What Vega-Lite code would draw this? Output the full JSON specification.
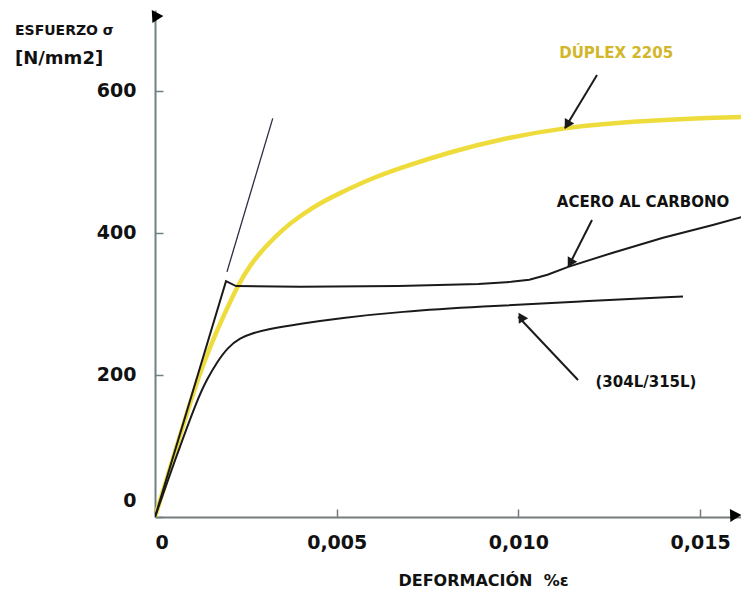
{
  "$schema": "https://vega.github.io/schema/vega-lite/v6.json",
  "width": 586,
  "height": 507,
  "autosize": {"type": "none"},
  "padding": {"left": 155, "top": 10, "right": 0, "bottom": 73},
  "background": "white",
  "config": {"view": {"stroke": null}, "font": "DejaVu Sans"},
  "title": {
    "text": "ESFUERZO σ",
    "subtitle": "[N/mm2]",
    "anchor": "start",
    "frame": "group",
    "orient": "top",
    "offset": 0,
    "dx": -140,
    "dy": 58,
    "font": "DejaVu Sans", "fontWeight": "bold", "fontSize": 14, "color": "#111111",
    "subtitleFont": "DejaVu Sans", "subtitleFontWeight": "bold", "subtitleFontSize": 18, "subtitleColor": "#111111",
    "subtitlePadding": 12
  },
  "datasets": {
    "curves": [
      {"series": "DÚPLEX 2205", "i": 0, "x": 0, "y": 0},
      {"series": "DÚPLEX 2205", "i": 1, "x": 0.00055, "y": 91.5},
      {"series": "DÚPLEX 2205", "i": 2, "x": 0.000963, "y": 160.5},
      {"series": "DÚPLEX 2205", "i": 3, "x": 0.001238, "y": 202.7},
      {"series": "DÚPLEX 2205", "i": 4, "x": 0.001513, "y": 239.3},
      {"series": "DÚPLEX 2205", "i": 5, "x": 0.001871, "y": 281.5},
      {"series": "DÚPLEX 2205", "i": 6, "x": 0.002284, "y": 326.5},
      {"series": "DÚPLEX 2205", "i": 7, "x": 0.002614, "y": 354.7},
      {"series": "DÚPLEX 2205", "i": 8, "x": 0.003027, "y": 380},
      {"series": "DÚPLEX 2205", "i": 9, "x": 0.003522, "y": 405.4},
      {"series": "DÚPLEX 2205", "i": 10, "x": 0.00399, "y": 423.6},
      {"series": "DÚPLEX 2205", "i": 11, "x": 0.00454, "y": 441.9},
      {"series": "DÚPLEX 2205", "i": 12, "x": 0.005091, "y": 456},
      {"series": "DÚPLEX 2205", "i": 13, "x": 0.005916, "y": 475.7},
      {"series": "DÚPLEX 2205", "i": 14, "x": 0.006742, "y": 491.2},
      {"series": "DÚPLEX 2205", "i": 15, "x": 0.008118, "y": 513.7},
      {"series": "DÚPLEX 2205", "i": 16, "x": 0.009494, "y": 532},
      {"series": "DÚPLEX 2205", "i": 17, "x": 0.011337, "y": 548.9},
      {"series": "DÚPLEX 2205", "i": 18, "x": 0.013154, "y": 556.6},
      {"series": "DÚPLEX 2205", "i": 19, "x": 0.014997, "y": 561.6},
      {"series": "DÚPLEX 2205", "i": 20, "x": 0.016125, "y": 563},
      {"series": "ACERO AL CARBONO", "i": 0, "x": 0, "y": 0},
      {"series": "ACERO AL CARBONO", "i": 1, "x": 0.001954, "y": 332},
      {"series": "ACERO AL CARBONO", "i": 2, "x": 0.00223, "y": 325},
      {"series": "ACERO AL CARBONO", "i": 3, "x": 0.004, "y": 324},
      {"series": "ACERO AL CARBONO", "i": 4, "x": 0.0067, "y": 325},
      {"series": "ACERO AL CARBONO", "i": 5, "x": 0.0089, "y": 328},
      {"series": "ACERO AL CARBONO", "i": 6, "x": 0.0098, "y": 331},
      {"series": "ACERO AL CARBONO", "i": 7, "x": 0.0103, "y": 334},
      {"series": "ACERO AL CARBONO", "i": 8, "x": 0.0108, "y": 341},
      {"series": "ACERO AL CARBONO", "i": 9, "x": 0.01137, "y": 352},
      {"series": "ACERO AL CARBONO", "i": 10, "x": 0.0126, "y": 372},
      {"series": "ACERO AL CARBONO", "i": 11, "x": 0.01398, "y": 393},
      {"series": "ACERO AL CARBONO", "i": 12, "x": 0.01535, "y": 411},
      {"series": "ACERO AL CARBONO", "i": 13, "x": 0.01613, "y": 422},
      {"series": "(304L/315L)", "i": 0, "x": 0, "y": 0},
      {"series": "(304L/315L)", "i": 1, "x": 0.00055, "y": 80.2},
      {"series": "(304L/315L)", "i": 2, "x": 0.001156, "y": 164.7},
      {"series": "(304L/315L)", "i": 3, "x": 0.001431, "y": 194},
      {"series": "(304L/315L)", "i": 4, "x": 0.001706, "y": 218},
      {"series": "(304L/315L)", "i": 5, "x": 0.002009, "y": 239},
      {"series": "(304L/315L)", "i": 6, "x": 0.002339, "y": 252},
      {"series": "(304L/315L)", "i": 7, "x": 0.002697, "y": 259},
      {"series": "(304L/315L)", "i": 8, "x": 0.003082, "y": 264},
      {"series": "(304L/315L)", "i": 9, "x": 0.00399, "y": 272},
      {"series": "(304L/315L)", "i": 10, "x": 0.005091, "y": 280},
      {"series": "(304L/315L)", "i": 11, "x": 0.006742, "y": 289},
      {"series": "(304L/315L)", "i": 12, "x": 0.008943, "y": 296.3},
      {"series": "(304L/315L)", "i": 13, "x": 0.011695, "y": 303.3},
      {"series": "(304L/315L)", "i": 14, "x": 0.014529, "y": 310.3},
      {"series": "elastic", "i": 0, "x": 0.00198, "y": 345},
      {"series": "elastic", "i": 1, "x": 0.00324, "y": 561}
    ],
    "arrows": [
      {"label": "DÚPLEX 2205", "x": 0.012163, "y": 622, "x2": 0.011282, "y2": 547.5, "hx": 0.01134, "hy": 552},
      {"label": "ACERO AL CARBONO", "x": 0.012025, "y": 418, "x2": 0.011373, "y2": 352.3, "hx": 0.011423, "hy": 357.4},
      {"label": "(304L/315L)", "x": 0.01164, "y": 192.8, "x2": 0.009997, "y2": 281.9, "hx": 0.010073, "hy": 277.8}
    ],
    "labels": [
      {"text": "DÚPLEX 2205", "x": 0.01269, "y": 653},
      {"text": "ACERO AL CARBONO", "x": 0.01343, "y": 444},
      {"text": "(304L/315L)", "x": 0.01351, "y": 190}
    ],
    "axisEnds": [
      {"axis": "x", "x": 0.015905, "y": 0},
      {"axis": "y", "x": 0, "y": 702.3}
    ]
  },
  "encoding": {
    "x": {"type": "quantitative", "scale": {"domain": [0, 0.016125], "nice": false, "zero": true}},
    "y": {"type": "quantitative", "scale": {"domain": [0, 713.6], "nice": false, "zero": true}}
  },
  "layer": [
    {
      "data": {"name": "curves"},
      "transform": [{"filter": "datum.series === 'DÚPLEX 2205'"}],
      "mark": {"type": "line", "color": "#EEDC3C", "strokeWidth": 4.5, "interpolate": "basis", "clip": true},
      "encoding": {
        "x": {"field": "x", "type": "quantitative",
          "axis": {
            "values": [0, 0.005, 0.01, 0.015],
            "labelExpr": "datum.value == 0 ? '0' : replace(format(datum.value, '.3f'), '.', ',')",
            "grid": false,
            "domainColor": "#747c7c", "domainWidth": 2,
            "tickColor": "#747c7c", "tickWidth": 1.5, "tickSize": -8,
            "labelFont": "DejaVu Sans", "labelFontWeight": "bold", "labelFontSize": 19, "labelColor": "#111111",
            "labelPadding": 24, "labelDx": 8, "labelFlush": false,
            "labelAlign": {"condition": {"test": "datum.value == 0", "value": "left"}, "value": "center"},
            "title": "DEFORMACIÓN\u00a0\u00a0%ε",
            "titleFont": "DejaVu Sans", "titleFontWeight": "bold", "titleFontSize": 16, "titleColor": "#111111",
            "titleX": 328, "titleY": 68, "titleBaseline": "alphabetic", "titleAnchor": "middle", "titleAlign": "center"
          }
        },
        "y": {"field": "y", "type": "quantitative",
          "axis": {
            "values": [0, 200, 400, 600],
            "grid": false,
            "domainColor": "#6f8282", "domainWidth": 2,
            "tickColor": "#6f8282", "tickWidth": 1.5, "tickSize": -8,
            "labelFont": "DejaVu Sans", "labelFontWeight": "bold", "labelFontSize": 19, "labelColor": "#111111",
            "labelPadding": 27, "labelFlush": true, "labelFlushOffset": -7,
            "title": null
          }
        },
        "order": {"field": "i", "type": "quantitative"}
      }
    },
    {
      "data": {"name": "curves"},
      "transform": [{"filter": "datum.series === 'ACERO AL CARBONO'"}],
      "mark": {"type": "line", "color": "#1a1a1a", "strokeWidth": 2, "interpolate": "linear", "clip": true},
      "encoding": {
        "x": {"field": "x", "type": "quantitative"},
        "y": {"field": "y", "type": "quantitative"},
        "order": {"field": "i", "type": "quantitative"}
      }
    },
    {
      "data": {"name": "curves"},
      "transform": [{"filter": "datum.series === '(304L/315L)'"}],
      "mark": {"type": "line", "color": "#1a1a1a", "strokeWidth": 2, "interpolate": "basis", "clip": true},
      "encoding": {
        "x": {"field": "x", "type": "quantitative"},
        "y": {"field": "y", "type": "quantitative"},
        "order": {"field": "i", "type": "quantitative"}
      }
    },
    {
      "data": {"name": "curves"},
      "transform": [{"filter": "datum.series === 'elastic'"}],
      "mark": {"type": "line", "color": "#2b2b45", "strokeWidth": 1.3},
      "encoding": {
        "x": {"field": "x", "type": "quantitative"},
        "y": {"field": "y", "type": "quantitative"},
        "order": {"field": "i", "type": "quantitative"}
      }
    },
    {
      "data": {"name": "arrows"},
      "mark": {"type": "rule", "color": "#1a1a1a", "strokeWidth": 2},
      "encoding": {
        "x": {"field": "x", "type": "quantitative"},
        "y": {"field": "y", "type": "quantitative"},
        "x2": {"field": "x2"},
        "y2": {"field": "y2"}
      }
    },
    {
      "data": {"name": "arrows"},
      "mark": {"type": "point", "shape": "triangle-up", "filled": true, "color": "#1a1a1a", "size": 120, "opacity": 1},
      "encoding": {
        "x": {"field": "hx", "type": "quantitative"},
        "y": {"field": "hy", "type": "quantitative"},
        "angle": {"field": "label", "type": "nominal", "scale": {"domain": ["DÚPLEX 2205", "ACERO AL CARBONO", "(304L/315L)"], "range": [211, 207, 316]}, "legend": null}
      }
    },
    {
      "data": {"name": "labels"},
      "mark": {"type": "text", "font": "DejaVu Sans", "fontWeight": "bold", "align": "center", "baseline": "middle"},
      "encoding": {
        "x": {"field": "x", "type": "quantitative"},
        "y": {"field": "y", "type": "quantitative"},
        "text": {"field": "text"},
        "color": {"field": "text", "type": "nominal", "scale": {"domain": ["DÚPLEX 2205", "ACERO AL CARBONO", "(304L/315L)"], "range": ["#d2b62a", "#111111", "#111111"]}, "legend": null},
        "size": {"field": "text", "type": "nominal", "scale": {"domain": ["DÚPLEX 2205", "ACERO AL CARBONO", "(304L/315L)"], "range": [15, 15, 14.5]}, "legend": null}
      }
    },
    {
      "data": {"name": "axisEnds"},
      "mark": {"type": "point", "shape": "triangle-up", "filled": true, "color": "#000000", "size": 170, "opacity": 1, "clip": false},
      "encoding": {
        "x": {"field": "x", "type": "quantitative"},
        "y": {"field": "y", "type": "quantitative"},
        "angle": {"field": "axis", "type": "nominal", "scale": {"domain": ["x", "y"], "range": [90, 0]}, "legend": null}
      }
    }
  ]
}
